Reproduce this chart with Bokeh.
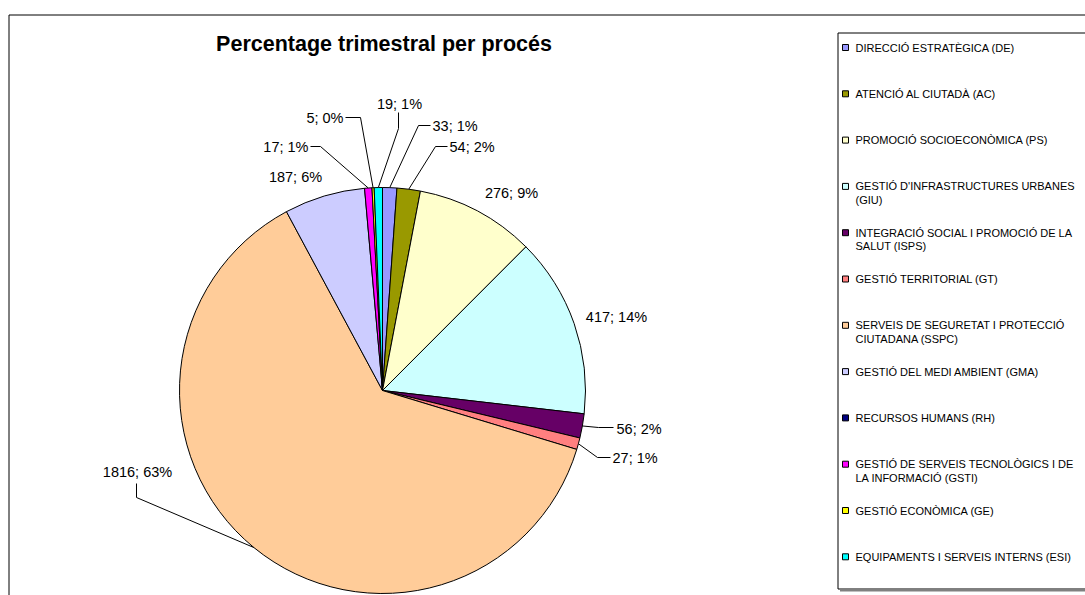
import math
from bokeh.plotting import figure
from bokeh.models import Range1d
from bokeh.core.properties import value
from bokeh.embed import file_html
from bokeh.resources import INLINE

# ---------------- data ----------------
categories = [
    "DIRECCIÓ ESTRATÈGICA (DE)",
    "ATENCIÓ AL CIUTADÀ (AC)",
    "PROMOCIÓ SOCIOECONÒMICA (PS)",
    "GESTIÓ D'INFRASTRUCTURES URBANES (GIU)",
    "INTEGRACIÓ SOCIAL I PROMOCIÓ DE LA SALUT (ISPS)",
    "GESTIÓ TERRITORIAL (GT)",
    "SERVEIS DE SEGURETAT I PROTECCIÓ CIUTADANA (SSPC)",
    "GESTIÓ DEL MEDI AMBIENT (GMA)",
    "RECURSOS HUMANS (RH)",
    "GESTIÓ DE SERVEIS TECNOLÒGICS I DE LA INFORMACIÓ (GSTI)",
    "GESTIÓ ECONÒMICA (GE)",
    "EQUIPAMENTS I SERVEIS INTERNS (ESI)",
]
legend_labels = [
    "DIRECCIÓ ESTRATÈGICA (DE)",
    "ATENCIÓ AL CIUTADÀ (AC)",
    "PROMOCIÓ SOCIOECONÒMICA (PS)",
    "GESTIÓ D'INFRASTRUCTURES URBANES\n(GIU)",
    "INTEGRACIÓ SOCIAL I PROMOCIÓ DE LA\nSALUT (ISPS)",
    "GESTIÓ TERRITORIAL (GT)",
    "SERVEIS DE SEGURETAT I PROTECCIÓ\nCIUTADANA (SSPC)",
    "GESTIÓ DEL MEDI AMBIENT (GMA)",
    "RECURSOS HUMANS (RH)",
    "GESTIÓ DE SERVEIS TECNOLÒGICS I DE\nLA INFORMACIÓ (GSTI)",
    "GESTIÓ ECONÒMICA (GE)",
    "EQUIPAMENTS I SERVEIS INTERNS (ESI)",
]
values = [33, 54, 276, 417, 56, 27, 1816, 187, 0, 17, 5, 19]
percents = [1, 2, 9, 14, 2, 1, 63, 6, 0, 1, 0, 1]
colors = ["#9999FF", "#999900", "#FFFFCC", "#CCFFFF", "#660066", "#FF8080",
          "#FFCC99", "#CCCCFF", "#000080", "#FF00FF", "#FFFF00", "#00FFFF"]
title_text = "Percentage trimestral per procés"

# ---------------- layout (page pixel coords) ----------------
W, H = 1085, 595
def fx(px):
    return px
def fy(py):
    return H - py

CX, CY, R = fx(382), fy(390), 203
FONT = value("Liberation Sans")

# label layout per slice: (text x, text y, align, leader points before anchor or None)
label_layout = [
    (432, 125, "left", [(430, 125), (418, 125)]),
    (449, 146, "left", [(447, 146), (435, 146)]),
    (511, 192, "center", None),
    (616, 316, "center", None),
    (616, 428, "left", [(613, 427), (598, 427)]),
    (612, 457, "left", [(610, 457), (597, 457)]),
    (137, 471, "center", [(136, 483), (136, 497)]),
    (295, 176, "center", None),
    None,
    (308, 146, "right", [(310, 146), (320, 146)]),
    (343, 117, "right", [(345, 117), (360, 117)]),
    (399, 103, "center", [(398, 112), (398, 128)]),
]

p = figure(width=W, height=H, x_range=Range1d(0, W), y_range=Range1d(0, H),
           output_backend="svg", toolbar_location=None, min_border=0,
           outline_line_color=None, background_fill_color="white")
p.xaxis.visible = False
p.yaxis.visible = False
p.xgrid.visible = False
p.ygrid.visible = False

# chart area border
p.line(x=[fx(8.5), fx(8.5), W + 5], y=[-5, fy(14.5), fy(14.5)],
       line_color="black", line_width=1)

# pie wedges
total = float(sum(values))
starts, ends, wc, mids = [], [], [], []
cum = 0.0
for v, c in zip(values, colors):
    a0 = math.pi / 2 - cum / total * 2 * math.pi
    a1 = math.pi / 2 - (cum + v) / total * 2 * math.pi
    mids.append(math.pi / 2 - (cum + v / 2) / total * 2 * math.pi)
    if v > 0:
        starts.append(a0)
        ends.append(a1)
        wc.append(c)
    cum += v
p.wedge(x=CX, y=CY, radius=R, start_angle=starts, end_angle=ends,
        direction="clock", fill_color=wc, line_color="black", line_width=1)

# data labels and leader lines
lx, ly, lt, la = [], [], [], []
xs, ys = [], []
for i, lay in enumerate(label_layout):
    if lay is None:
        continue
    tx, ty, align, pts = lay
    lx.append(fx(tx))
    ly.append(fy(ty))
    lt.append(f"{values[i]}; {percents[i]}%")
    la.append(align)
    if pts:
        ax = CX + R * math.cos(mids[i])
        ay = CY + R * math.sin(mids[i])
        xs.append([fx(q[0]) for q in pts] + [ax])
        ys.append([fy(q[1]) for q in pts] + [ay])
p.multi_line(xs=xs, ys=ys, line_color="black", line_width=1)
p.text(x=lx, y=ly, text=lt, text_align=la, text_baseline="middle",
       text_font=FONT, text_font_size="14.5px", text_color="black")

# title
p.text(x=[fx(383.5)], y=[fy(43)], text=[title_text], text_align="center",
       text_baseline="middle", text_font=FONT, text_font_size="21.5px",
       text_font_style="bold", text_color="black")

# legend box
LX0, LY0, LY1 = fx(837.5), fy(32.5), fy(588.5)
p.line(x=[W + 5, LX0, LX0, W + 5], y=[LY0, LY0, LY1, LY1],
       line_color="black", line_width=1)
p.line(x=[LX0 + 2, W + 5], y=[LY1 - 1.5, LY1 - 1.5], line_color="#808080", line_width=2)

n = len(categories)
step = 46.3
mx = [fx(845)] * n
my = [fy(47 + step * k) for k in range(n)]
p.rect(x=mx, y=my, width=6, height=6, fill_color=colors, line_color="black", line_width=1)
p.text(x=[fx(855)] * n, y=[fy(47 + step * k) + 6 for k in range(n)], text=legend_labels,
       text_align="left", text_baseline="top", text_font=FONT,
       text_font_size="11px", text_color="black", text_line_height=1.15)

open("out.html", "w").write(file_html(p, INLINE))
